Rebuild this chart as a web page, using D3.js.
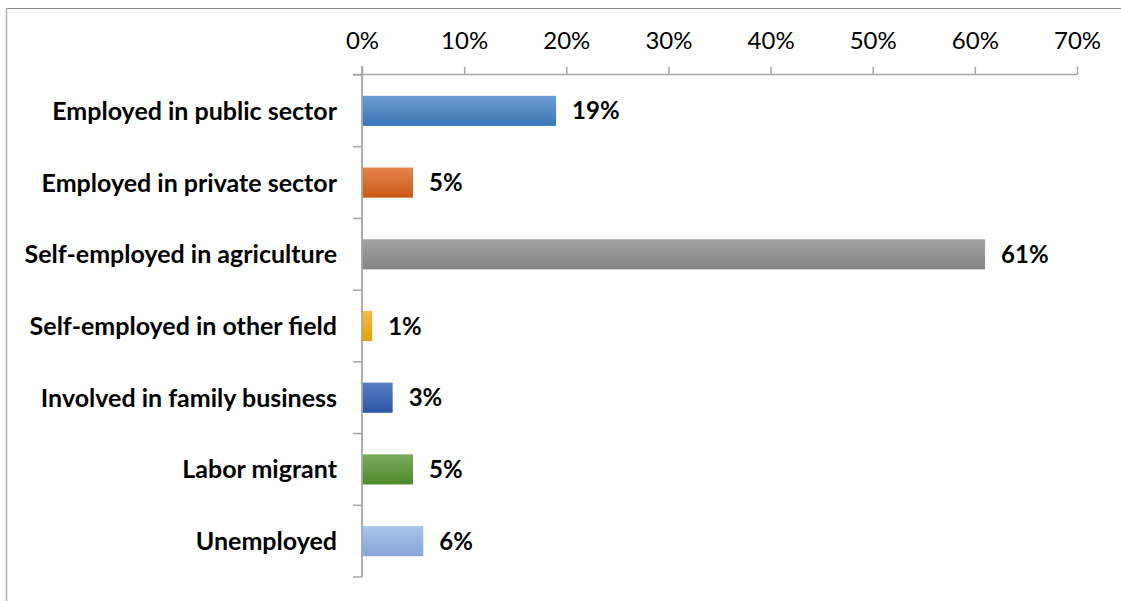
<!DOCTYPE html>
<html>
<head>
<meta charset="utf-8">
<script src="https://cdn.jsdelivr.net/npm/d3@7"></script>
<style>
  html, body { margin: 0; padding: 0; background: #fff; }
  svg { display: block; }
  text { font-family: Lato, "Open Sans", sans-serif; fill: #000; }
</style>
</head>
<body>
<svg id="chart" width="1121" height="601"></svg>
<script>
// Employment status shares (percent)
const categories = [
  "Employed in public sector",
  "Employed in private sector",
  "Self-employed in agriculture",
  "Self-employed in other field",
  "Involved in family business",
  "Labor migrant",
  "Unemployed"
];
const values = [19, 5, 61, 1, 3, 5, 6];
const tickValues = [0, 10, 20, 30, 40, 50, 60, 70];
const tickLabels = ["0%", "10%", "20%", "30%", "40%", "50%", "60%", "70%"];

// gradient stops per bar: [top, bottom]
const barColors = [
  ["#6c9dd2", "#3b76b6"],
  ["#e3854f", "#cb5814"],
  ["#a2a2a2", "#858585"],
  ["#f1bb47", "#e4a300"],
  ["#5b7ec3", "#2c55a5"],
  ["#7bab5c", "#4e8b2b"],
  ["#a8c5e8", "#86a7d7"]
];

const svg = d3.select("#chart");

// outer frame
svg.append("line").attr("x1", 6.5).attr("x2", 1121).attr("y1", 8.5).attr("y2", 8.5)
  .attr("stroke", "#8c8c8c").attr("stroke-width", 1.2);
svg.append("line").attr("x1", 6.5).attr("x2", 6.5).attr("y1", 8).attr("y2", 601)
  .attr("stroke", "#b3b3b3").attr("stroke-width", 1.6);

const x = d3.scaleLinear().domain([0, 70]).range([362, 1077]);
const y = d3.scaleBand().domain(categories).range([75, 577])
  .paddingInner(0.58).paddingOuter(0.29);

const defs = svg.append("defs");
barColors.forEach((c, i) => {
  const g = defs.append("linearGradient").attr("id", "grad" + i)
    .attr("x1", 0).attr("y1", 0).attr("x2", 0).attr("y2", 1);
  g.append("stop").attr("offset", "0%").attr("stop-color", c[0]);
  g.append("stop").attr("offset", "100%").attr("stop-color", c[1]);
});

// bars
svg.append("g").selectAll("rect").data(values).join("rect")
  .attr("x", x(0))
  .attr("y", (d, i) => y(categories[i]))
  .attr("width", d => x(d) - x(0))
  .attr("height", y.bandwidth())
  .attr("fill", (d, i) => `url(#grad${i})`);

// top value axis
const xAxis = d3.axisTop(x).tickValues(tickValues)
  .tickFormat((d, i) => tickLabels[i]).tickSize(8).tickPadding(18);
const gx = svg.append("g").attr("transform", "translate(0,74.5)").call(xAxis);
gx.select(".domain").attr("stroke", "#a6a6a6").attr("stroke-width", 1.5)
  .attr("d", `M353,0H${x(70)}`);
gx.selectAll(".tick line").attr("stroke", "#a6a6a6").attr("stroke-width", 1.5);
gx.selectAll(".tick text").style("font-family", "Lato, sans-serif")
  .style("font-size", "24px").attr("fill", "#000");

// category axis on the left with ticks at band boundaries
const gy = svg.append("g");
gy.append("line").attr("x1", x(0)).attr("x2", x(0)).attr("y1", 66).attr("y2", 577)
  .attr("stroke", "#a6a6a6").attr("stroke-width", 1.8);
const bounds = d3.range(categories.length + 1).map(k => 75 + k * y.step());
gy.selectAll("line.tk").data(bounds).join("line").attr("class", "tk")
  .attr("x1", 353).attr("x2", x(0)).attr("y1", d => d).attr("y2", d => d)
  .attr("stroke", "#a6a6a6").attr("stroke-width", 1.5);

gy.selectAll("text.cat").data(categories).join("text").attr("class", "cat")
  .attr("x", 337)
  .attr("y", d => y(d) + y.bandwidth() / 2)
  .attr("dy", "0.36em")
  .attr("text-anchor", "end")
  .style("font-weight", "bold").style("font-size", "25px")
  .text(d => d);

// value labels
svg.append("g").selectAll("text").data(values).join("text")
  .attr("x", d => x(d) + 16)
  .attr("y", (d, i) => y(categories[i]) + y.bandwidth() / 2)
  .attr("dy", "0.36em")
  .style("font-weight", "bold").style("font-size", "24px")
  .text(d => d + "%");
</script>
</body>
</html>
